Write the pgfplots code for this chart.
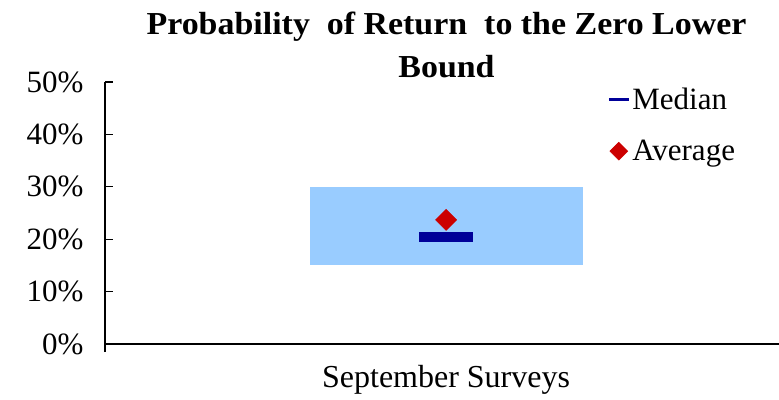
\documentclass[border=0pt]{standalone}
\usepackage{pgfplots}
\pgfplotsset{compat=1.18}
\usepackage{fontspec}
\setmainfont{Liberation Serif}
\newfontfamily\titlefont{Liberation Serif}[FakeStretch=1.06]
\definecolor{boxblue}{RGB}{153,204,255}
\definecolor{mednavy}{RGB}{0,0,153}
\definecolor{avgred}{RGB}{204,0,0}
\begin{document}
\begin{tikzpicture}
\path[use as bounding box] (-105bp,-56bp) rectangle (674bp,344bp);
\begin{axis}[
  scale only axis,
  width=674bp, height=262bp,
  xmin=-1.25, xmax=1.22,
  ymin=0, ymax=50,
  axis lines=left,
  axis line style={-, line width=1.2bp, black},
  clip=false,
  /pgf/number format/assume math mode=true,
  font=\fontsize{31bp}{37bp}\selectfont,
  ytick={0,10,20,30,40,50},
  yticklabel={\pgfmathprintnumber{\tick}\%},
  yticklabel style={anchor=east, xshift=-18bp},
  ytick style={line width=1.2bp, black},
  y tick label style={font=\fontsize{31bp}{37bp}\selectfont},
  major tick length=8bp,
  tick align=inside,
  xtick={0},
  xticklabels={September Surveys},
  xtick style={draw=none},
  x tick label style={yshift=-18bp, font=\fontsize{32bp}{38bp}\selectfont},
  extra x ticks={-1.25},
  extra x tick labels={},
  extra x tick style={tick align=outside, xtick style={draw=black, line width=1.2bp}},
  title={Probability\ \ of Return\ \ to the Zero Lower\\Bound},
  title style={align=center, font=\titlefont\bfseries\fontsize{32bp}{43bp}\selectfont, at={(0.5067,1)}, anchor=south, yshift=-5bp},
  legend style={draw=none, fill=none, at={(0.745,1)}, anchor=north west, font=\fontsize{31bp}{37bp}\selectfont, row sep=25bp, inner sep=0pt, yshift=-4bp},
  legend cell align=left,
]
% range box (15% to 30%)
\addplot[fill=boxblue, draw=none, forget plot] coordinates {(-0.5,15) (0.5,15) (0.5,30) (-0.5,30)} -- cycle;
% median
\addplot[fill=mednavy, draw=none,
  legend image code/.code={\draw[mednavy, line width=3bp] (0bp,0bp) -- (20bp,0bp);}]
  coordinates {(-0.1,19.45) (0.1,19.45) (0.1,21.35) (-0.1,21.35)} -- cycle;
\addlegendentry{Median}
% average
\addplot[only marks, mark=square*, mark size=7.5bp, mark options={rotate=45, fill=avgred, draw=avgred}, color=avgred,
  legend image code/.code={\fill[avgred] (10bp,0bp) ++(0bp,9bp) -- ++(9bp,-9bp) -- ++(-9bp,-9bp) -- ++(-9bp,9bp) -- cycle;}]
  coordinates {(0,23.7)};
\addlegendentry{Average}
\end{axis}
\end{tikzpicture}
\end{document}
